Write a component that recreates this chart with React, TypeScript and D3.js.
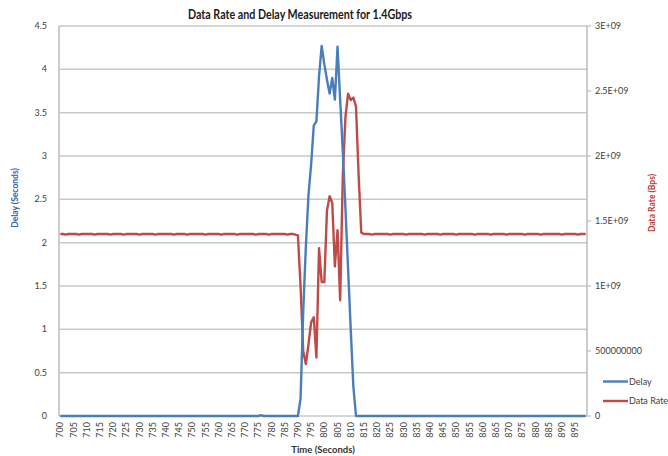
import React from "react";
import * as d3 from "d3";

const title = "Data Rate and Delay Measurement for 1.4Gbps";
const times: number[] = d3.range(700, 900);

// Delay (seconds), one value per second from 700 to 899
const delay: number[] = [
  // 700-709
  0, 0, 0, 0, 0, 0, 0, 0, 0, 0,
  // 710
  0, 0, 0, 0, 0, 0, 0, 0, 0, 0,
  // 720
  0, 0, 0, 0, 0, 0, 0, 0, 0, 0,
  // 730
  0, 0, 0, 0, 0, 0, 0, 0, 0, 0,
  // 740
  0, 0, 0, 0, 0, 0, 0, 0, 0, 0,
  // 750
  0, 0, 0, 0, 0, 0, 0, 0, 0, 0,
  // 760
  0, 0, 0, 0, 0, 0, 0, 0, 0, 0,
  // 770
  0, 0, 0, 0, 0, 0, 0.01, 0, 0, 0,
  // 780
  0, 0, 0, 0, 0, 0, 0, 0, 0, 0,
  // 790
  0, 0.2, 1.2, 1.95, 2.55, 2.9, 3.35, 3.4, 3.92, 4.27,
  // 800
  4.06, 3.88, 3.72, 3.9, 3.65, 4.26, 3.65, 3.05, 2.4, 1.7,
  // 810
  1.0, 0.34, 0, 0, 0, 0, 0, 0, 0, 0,
  // 820
  0, 0, 0, 0, 0, 0, 0, 0, 0, 0,
  // 830
  0, 0, 0, 0, 0, 0, 0, 0, 0, 0,
  // 840
  0, 0, 0, 0, 0, 0, 0, 0, 0, 0,
  // 850
  0, 0, 0, 0, 0, 0, 0, 0, 0, 0,
  // 860
  0, 0, 0, 0, 0, 0, 0, 0, 0, 0,
  // 870
  0, 0, 0, 0, 0, 0, 0, 0, 0, 0,
  // 880
  0, 0, 0, 0, 0, 0, 0, 0, 0, 0,
  // 890
  0, 0, 0, 0, 0, 0, 0, 0, 0, 0,
];

// Data rate in Gbps (x 1e9 Bps), one value per second from 700 to 899
const dataRateG: number[] = [
  // 700
  1.40, 1.40, 1.395, 1.40, 1.40, 1.40, 1.40, 1.395, 1.40, 1.40,
  // 710
  1.40, 1.40, 1.40, 1.395, 1.40, 1.40, 1.40, 1.40, 1.40, 1.395,
  // 720
  1.40, 1.40, 1.40, 1.40, 1.395, 1.40, 1.40, 1.40, 1.40, 1.40,
  // 730
  1.395, 1.40, 1.40, 1.40, 1.40, 1.40, 1.395, 1.40, 1.40, 1.40,
  // 740
  1.40, 1.40, 1.40, 1.395, 1.40, 1.40, 1.40, 1.40, 1.395, 1.40,
  // 750
  1.40, 1.40, 1.40, 1.40, 1.40, 1.395, 1.40, 1.40, 1.40, 1.40,
  // 760
  1.40, 1.395, 1.40, 1.40, 1.40, 1.40, 1.40, 1.395, 1.40, 1.40,
  // 770
  1.40, 1.40, 1.40, 1.40, 1.395, 1.40, 1.40, 1.40, 1.40, 1.395,
  // 780
  1.40, 1.40, 1.40, 1.40, 1.40, 1.40, 1.395, 1.40, 1.40, 1.395,
  // 790
  1.39, 1.0, 0.5, 0.4, 0.55, 0.72, 0.76, 0.45, 1.29, 1.03,
  // 800
  1.03, 1.58, 1.69, 1.64, 1.15, 1.43, 0.89, 1.85, 2.3, 2.48,
  // 810
  2.43, 2.45, 2.38, 1.85, 1.41, 1.40, 1.40, 1.40, 1.395, 1.40,
  // 820
  1.40, 1.40, 1.40, 1.40, 1.40, 1.395, 1.40, 1.40, 1.40, 1.40,
  // 830
  1.40, 1.395, 1.40, 1.40, 1.40, 1.40, 1.40, 1.40, 1.395, 1.40,
  // 840
  1.40, 1.40, 1.40, 1.40, 1.395, 1.40, 1.40, 1.40, 1.40, 1.40,
  // 850
  1.395, 1.40, 1.40, 1.40, 1.40, 1.40, 1.40, 1.395, 1.40, 1.40,
  // 860
  1.40, 1.40, 1.40, 1.395, 1.40, 1.40, 1.40, 1.40, 1.40, 1.395,
  // 870
  1.40, 1.40, 1.40, 1.40, 1.40, 1.40, 1.395, 1.40, 1.40, 1.40,
  // 880
  1.40, 1.40, 1.395, 1.40, 1.40, 1.40, 1.40, 1.40, 1.40, 1.40,
  // 890
  1.395, 1.40, 1.40, 1.40, 1.40, 1.40, 1.395, 1.40, 1.40, 1.40,
];

const leftTicks: number[] = [0, 0.5, 1, 1.5, 2, 2.5, 3, 3.5, 4, 4.5];
const rightTicks: number[] = [0, 5e8, 1e9, 1.5e9, 2e9, 2.5e9, 3e9];
const rightTickLabels: string[] = ["0", "500000000", "1E+09", "1.5E+09", "2E+09", "2.5E+09", "3E+09"];
const seriesNames: string[] = ["Delay", "Data Rate"];
const seriesColors: string[] = ["#4a7ebb", "#be4b48"];

const W = 668;
const H = 456;
const M = { left: 59, right: 587, top: 26, bottom: 416 };
const FONT = "Lato, 'Open Sans', sans-serif";

export default function App() {
  const x = d3.scaleBand<number>().domain(times).range([M.left, M.right]);
  const cx = (t: number) => (x(t) as number) + x.bandwidth() / 2;
  const yL = d3.scaleLinear().domain([0, 4.5]).range([M.bottom, M.top]);
  const yR = d3.scaleLinear().domain([0, 3e9]).range([M.bottom, M.top]);

  const delayLine = d3
    .line<number>()
    .x((_, i) => cx(times[i]))
    .y((d) => yL(d));
  const rateLine = d3
    .line<number>()
    .x((_, i) => cx(times[i]))
    .y((d) => yR(d * 1e9));

  const xLabels = times.filter((t) => t % 5 === 0);
  const labelColor = "#404040";

  return (
    <div style={{ position: "absolute", left: 0, top: 0 }}>
      <svg width={W} height={H} style={{ display: "block", background: "#fff" }}>
        {/* gridlines */}
        {leftTicks.map((v) => (
          <line
            key={"g" + v}
            x1={M.left}
            x2={M.right}
            y1={yL(v)}
            y2={yL(v)}
            stroke="#c9c9c9"
            strokeWidth={1.5}
          />
        ))}
        {/* axes lines */}
        <line x1={M.left} x2={M.left} y1={M.top} y2={M.bottom} stroke="#bdbdbd" strokeWidth={1.5} />
        <line x1={M.right} x2={M.right} y1={M.top} y2={M.bottom} stroke="#bdbdbd" strokeWidth={1.5} />
        {rightTicks.map((v) => (
          <line key={"rt" + v} x1={M.right} x2={M.right + 4} y1={yR(v)} y2={yR(v)} stroke="#bdbdbd" strokeWidth={1.2} />
        ))}
        {/* left tick labels */}
        {leftTicks.map((v) => (
          <text
            key={"lt" + v}
            x={47}
            y={yL(v)}
            dy="0.35em"
            textAnchor="end"
            fontFamily={FONT}
            fontSize={9}
            fill={labelColor}
          >
            {String(v)}
          </text>
        ))}
        {/* right tick labels */}
        {rightTicks.map((v, i) => (
          <text
            key={"rl" + v}
            x={595}
            y={yR(v)}
            dy="0.35em"
            textAnchor="start"
            fontFamily={FONT}
            fontSize={9}
            fill={labelColor}
          >
            {rightTickLabels[i]}
          </text>
        ))}
        {/* x tick labels */}
        {xLabels.map((t) => (
          <text
            key={"xl" + t}
            transform={`translate(${cx(t)},${422}) rotate(-90)`}
            dy="0.35em"
            textAnchor="end"
            fontFamily={FONT}
            fontSize={9}
            fill={labelColor}
          >
            {String(t)}
          </text>
        ))}
        {/* series */}
        <path d={rateLine(dataRateG) || ""} fill="none" stroke={seriesColors[1]} strokeWidth={2.4} strokeLinejoin="round" />
        <path d={delayLine(delay) || ""} fill="none" stroke={seriesColors[0]} strokeWidth={2.4} strokeLinejoin="round" />
        {/* title */}
        <text
          x={300}
          y={19}
          textAnchor="middle"
          fontFamily={FONT}
          fontWeight="bold"
          fontSize={12.5}
          fill="#1a1a1a"
          textLength={224}
          lengthAdjust="spacingAndGlyphs"
        >
          {title}
        </text>
        {/* axis titles */}
        <text
          transform={`translate(15,198) rotate(-90)`}
          textAnchor="middle"
          dy="0.35em"
          fontFamily={FONT}
          fontWeight="bold"
          fontSize={8.5}
          fill="#2f64a8"
        >
          Delay (Seconds)
        </text>
        <text
          transform={`translate(652,203) rotate(-90)`}
          textAnchor="middle"
          dy="0.35em"
          fontFamily={FONT}
          fontWeight="bold"
          fontSize={8.5}
          fill="#b33a36"
        >
          Data Rate (Bps)
        </text>
        <text x={323} y={450} dy="0.35em" textAnchor="middle" fontFamily={FONT} fontWeight="bold" fontSize={9.5} fill="#333">
          Time (Seconds)
        </text>
        {/* legend */}
        {seriesNames.map((n, i) => (
          <g key={n} transform={`translate(603,${381.5 + i * 19.5})`}>
            <line x1={0} x2={25} y1={0} y2={0} stroke={seriesColors[i]} strokeWidth={2.4} />
            <text x={26} y={0} dy="0.35em" fontFamily={FONT} fontSize={9} fill={labelColor}>
              {n}
            </text>
          </g>
        ))}
      </svg>
    </div>
  );
}
